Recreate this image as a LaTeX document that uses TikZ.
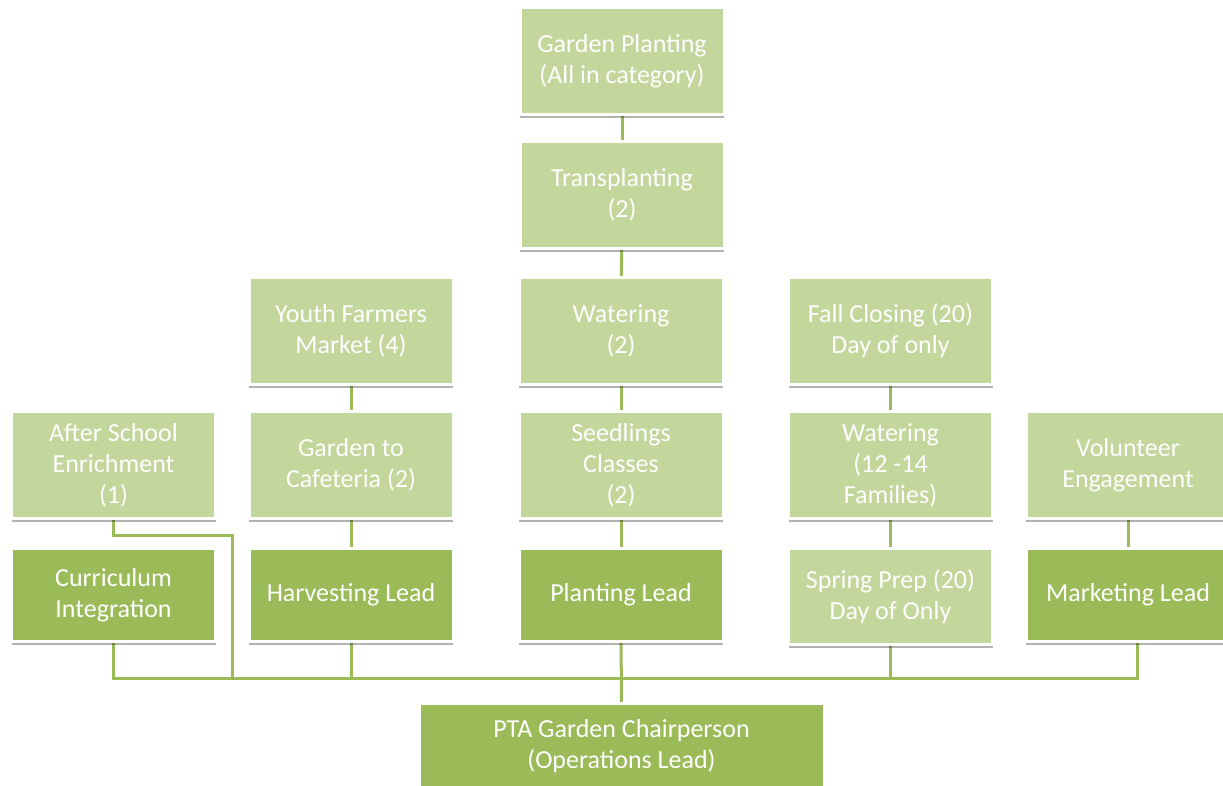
\documentclass[tikz,border=0pt]{standalone}
\usepackage{fontspec}
\setmainfont{Carlito}
\usetikzlibrary{shadows}
\definecolor{dkgreen}{HTML}{9BBB59}
\definecolor{ltgreen}{HTML}{C3D69B}
\pgfdeclarelayer{background}
\pgfsetlayers{background,main}
\tikzset{
  box/.style={rectangle, draw=white, line width=3pt, text=white, align=center,
    font=\fontsize{26}{31}\selectfont,
    drop shadow={shadow xshift=0pt, shadow yshift=-3pt, opacity=0.3, fill=black},
    minimum width=204pt, minimum height=107pt, inner sep=0pt},
  lt/.style={box, fill=ltgreen},
  dk/.style={box, fill=dkgreen},
  conn/.style={draw=dkgreen, line width=3pt}
}
\begin{document}
\begin{tikzpicture}[x=1pt, y=-1pt]
\useasboundingbox (0,0) rectangle (1223,785);
% column 3 (center)
\node[lt] (gp) at (622,61) {Garden Planting\\(All in category)};
\node[lt] (tp) at (622,195) {Transplanting\\(2)};
\node[lt] (wa) at (621,331) {Watering\\(2)};
\node[lt] (se) at (621,465) {Seedlings\\Classes\\(2)};
\node[dk, minimum height=93pt] (pl) at (621,595) {Planting Lead};
% column 2
\node[lt] (yf) at (351,331) {Youth Farmers\\Market (4)};
\node[lt] (gc) at (351,465) {Garden to\\Cafeteria (2)};
\node[dk, minimum height=93pt] (hv) at (351,595) {Harvesting Lead};
% column 1
\node[lt] (as) at (113.5,465) {After School\\Enrichment\\(1)};
\node[dk, minimum height=93pt] (cu) at (113.5,595) {Curriculum\\Integration};
% column 4
\node[lt] (fc) at (890.5,331) {Fall Closing (20)\\Day of only};
\node[lt] (wf) at (890.5,465) {Watering\\(12 -14\\Families)};
\node[lt, minimum height=96pt] (sp) at (890.5,596.5) {Spring Prep (20)\\Day of Only};
% column 5
\node[lt] (ve) at (1128,465) {Volunteer\\Engagement};
\node[dk, minimum height=93pt] (mk) at (1128,595) {Marketing Lead};
% root
\node[dk, minimum width=405pt, minimum height=86pt] (pta) at (621.5,746) {PTA Garden Chairperson\\(Operations Lead)};
% connectors
\coordinate (bL) at (113.5,678);
\coordinate (bR) at (1137,678);
\coordinate (mkx) at (1137,600);
\coordinate (asj) at (232,535);
\coordinate (asb) at (232,678);
\begin{pgfonlayer}{background}
\draw[conn] (gp.center) -- (tp.center);
\draw[conn] (tp.center) -- (wa.center);
\draw[conn] (wa.center) -- (se.center);
\draw[conn] (se.center) -- (pl.center);
\draw[conn] (pl.center) -- (pta.center);
\draw[conn] (yf.center) -- (gc.center);
\draw[conn] (gc.center) -- (hv.center);
\draw[conn] (hv.center) -- (hv.center |- bL);
\draw[conn] (fc.center) -- (wf.center);
\draw[conn] (wf.center) -- (sp.center);
\draw[conn] (sp.center) -- (sp.center |- bL);
\draw[conn] (ve.center) -- (mk.center);
\draw[conn] (cu.center) -- (bL) -- (bR) -- (mkx);
\draw[conn] (as.center) -- (as.center |- asj) -- (asj) -- (asb);
\end{pgfonlayer}
\end{tikzpicture}
\end{document}
